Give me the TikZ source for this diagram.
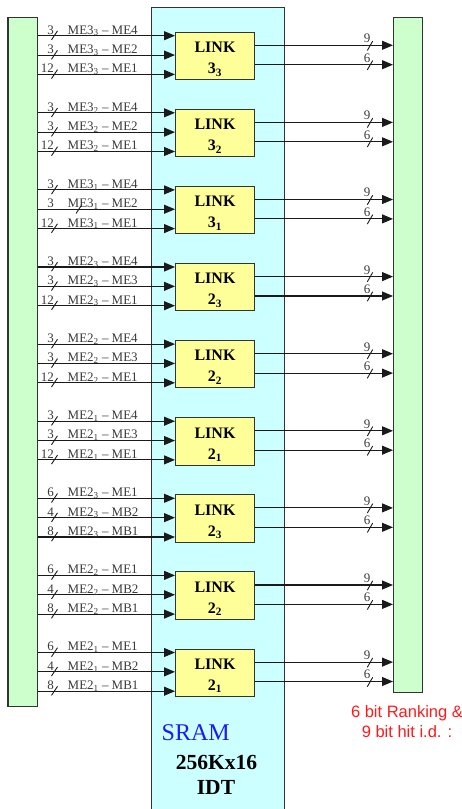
\documentclass[tikz,border=0pt]{standalone}
\usepackage{fontspec}
\setmainfont{Liberation Serif}
\newfontfamily\arialfont{Liberation Sans}
\usetikzlibrary{arrows.meta}
\definecolor{barg}{HTML}{CCFFCC}
\definecolor{cyanbg}{HTML}{CCFFFF}
\definecolor{linky}{HTML}{FFFF99}
\definecolor{edgec}{HTML}{333333}
\definecolor{linec}{HTML}{1A1A1A}
\definecolor{txtc}{HTML}{3A3A3A}
\definecolor{srblue}{HTML}{1A1AFF}
\definecolor{notered}{HTML}{FF1A1A}
\begin{document}
\begin{tikzpicture}[x=1pt,y=-1pt,
  conn/.style={draw=linec, line width=1.1pt},
  arr/.style={conn, -{Triangle[length=11pt,width=9pt]}},
  bar/.style={draw=edgec, line width=1.2pt, fill=barg, inner sep=0pt, anchor=north west},
  linkbox/.style={draw=edgec, line width=1pt, fill=linky, inner sep=0pt, anchor=north west,
    minimum width=79pt, minimum height=47.3pt},
  linktext/.style={font=\bfseries\fontsize{16}{21}\selectfont, inner sep=0pt, anchor=base},
  numlab/.style={text=txtc, font=\fontsize{13}{14}\selectfont, inner sep=0pt, anchor=base east},
  melab/.style={text=txtc, font=\fontsize{13}{14}\selectfont, inner sep=0pt, anchor=base west},
]
\useasboundingbox (0,0) rectangle (462,809);
% SRAM background
\node[draw=edgec, fill=cyanbg, line width=1.2pt, minimum width=133pt, minimum height=812pt,
  anchor=north west, inner sep=0pt] (sram) at (151,6.7) {};
% bars
\node[bar, minimum width=29.4pt, minimum height=689.3pt] (lbar) at (7.3,16.7) {};
\node[bar, minimum width=29pt, minimum height=675.3pt] (rbar) at (393,16.7) {};
% groups
\foreach \i/\m/\s/\na/\nb/\nc/\ta/\tb/\tc in {
  0/3/3/3/3/12/ME4/ME2/ME1,
  1/3/2/3/3/12/ME4/ME2/ME1,
  2/3/1/3/3/12/ME4/ME2/ME1,
  3/2/3/3/3/12/ME4/ME3/ME1,
  4/2/2/3/3/12/ME4/ME3/ME1,
  5/2/1/3/3/12/ME4/ME3/ME1,
  6/2/3/6/4/8/ME1/MB2/MB1,
  7/2/2/6/4/8/ME1/MB2/MB1,
  8/2/1/6/4/8/ME1/MB2/MB1}{
  \pgfmathsetmacro\yo{35.7+77.1*\i}
  \node[linkbox] (L\i) at (175,\yo-4) {};
  \path (L\i.north) ++(0,20.8) node[linktext] (lk\i) {LINK};
  \path (L\i.north) ++(0,41.8) node[linktext] (ld\i) {\m\textsubscript{\s}};
  % inputs
  \foreach \j/\n/\t in {0/\na/\ta,1/\nb/\tb,2/\nc/\tc}{
    \pgfmathsetmacro\yy{\yo+19.35*\j}
    \pgfmathsetmacro\sx{(\i==2 && \j==1) ? 79 : 54.5}
    \coordinate (in\i-\j) at (100,\yy);
    \draw[arr] (lbar.east |- in\i-\j) -- (L\i.west |- in\i-\j);
    \draw[conn, line width=0.9pt] (\sx-3,\yy+4.2) -- (\sx+3,\yy-4.8);
    \node[numlab] (n\i-\j) at (54,\yy-1.6) {\n};
    \node[melab] (t\i-\j) at (67.5,\yy-1.6) {ME\m\textsubscript{\s} -- \t};
  }
  % outputs
  \foreach \k/\n/\d in {0/9/9.6,1/6/29}{
    \pgfmathsetmacro\yy{\yo+\d}
    \coordinate (out\i-\k) at (320,\yy);
    \draw[arr] (L\i.east |- out\i-\k) -- (rbar.west |- out\i-\k);
    \draw[conn, line width=0.9pt] (367.3,\yy+5.2) -- (372.7,\yy-4.2);
    \node[numlab] (o\i-\k) at (370.5,\yy-2.6) {\n};
  }
}
% texts
\node[text=srblue, font=\fontsize{24}{28}\selectfont, anchor=west, inner sep=0pt] (sramt) at (161.5,733) {SRAM};
\node[font=\bfseries\fontsize{21.5}{24}\selectfont, inner sep=0pt] (size) at (216.5,762) {256Kx16};
\node[font=\bfseries\fontsize{21.5}{24}\selectfont, inner sep=0pt] (idt) at (216,787) {IDT};
\node[text=notered, font=\arialfont\fontsize{16.5}{20}\selectfont, align=center, inner sep=0pt] (note) at (407,722) {6 bit Ranking \&\\9 bit hit i.d. :};
\end{tikzpicture}
\end{document}
